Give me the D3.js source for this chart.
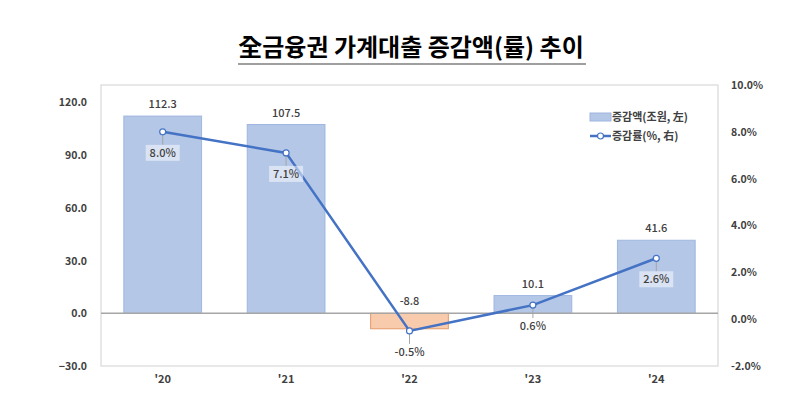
<!DOCTYPE html>
<html>
<head>
<meta charset="utf-8">
<script src="https://cdn.jsdelivr.net/npm/d3@7"></script>
<style>
  body { margin: 0; background: #fff; }
  text { font-family: "Noto Sans CJK KR", "Noto Sans", sans-serif; }
</style>
</head>
<body>
<div id="chart"></div>
<script>
// data
const years = ["'20", "'21", "'22", "'23", "'24"];
const amounts = [112.3, 107.5, -8.8, 10.1, 41.6];   // 증감액 (조원, 左)
const rates = [8.0, 7.1, -0.5, 0.6, 2.6];           // 증감률 (%, 右)
const leftTicks = [-30, 0, 30, 60, 90, 120];
const rightTicks = [-2, 0, 2, 4, 6, 8, 10];

const width = 800, height = 411;
const plot = { left: 101, right: 718, top: 85, bottom: 366 };

const svg = d3.select('#chart').append('svg')
    .attr('width', width)
    .attr('height', height);

// title
svg.append('text')
    .attr('x', 411)
    .attr('y', 56)
    .attr('text-anchor', 'middle')
    .attr('font-size', 24)
    .attr('font-weight', 'bold')
    .attr('fill', '#000')
    .text('全금융권 가계대출 증감액(률) 추이');
svg.append('line')
    .attr('x1', 238).attr('x2', 586)
    .attr('y1', 64).attr('y2', 64)
    .attr('stroke', '#7f7f7f')
    .attr('stroke-width', 1.5);

const x = d3.scaleBand()
    .domain(years)
    .range([plot.left, plot.right])
    .paddingInner(0.37)
    .paddingOuter(0.185);

const yL = d3.scaleLinear().domain([-30, 130]).range([plot.bottom, plot.top]);
const yR = d3.scaleLinear().domain([-2, 10]).range([plot.bottom, plot.top]);

// plot border
svg.append('rect')
    .attr('x', plot.left).attr('y', plot.top)
    .attr('width', plot.right - plot.left)
    .attr('height', plot.bottom - plot.top)
    .attr('fill', 'none')
    .attr('stroke', '#d9d9d9')
    .attr('stroke-width', 1.2);

// bars
svg.selectAll('rect.bar')
    .data(amounts)
    .enter()
    .append('rect')
    .attr('class', 'bar')
    .attr('x', (d, i) => x(years[i]))
    .attr('width', x.bandwidth())
    .attr('y', d => yL(Math.max(0, d)))
    .attr('height', d => Math.abs(yL(d) - yL(0)))
    .attr('fill', d => d < 0 ? '#f8cbad' : '#b4c7e7')
    .attr('stroke', d => d < 0 ? '#e59a6a' : '#9fb6e0')
    .attr('stroke-width', 1);

// zero line
svg.append('line')
    .attr('x1', plot.left).attr('x2', plot.right)
    .attr('y1', yL(0)).attr('y2', yL(0))
    .attr('stroke', '#a6a6a6')
    .attr('stroke-width', 1.5);

// bar value labels
svg.selectAll('text.barlabel')
    .data(amounts)
    .enter()
    .append('text')
    .attr('class', 'barlabel')
    .attr('x', (d, i) => x(years[i]) + x.bandwidth() / 2)
    .attr('y', d => d < 0 ? yL(0) - 8 : yL(d) - 8)
    .attr('text-anchor', 'middle')
    .attr('font-size', 11)
    .attr('font-weight', 500)
    .attr('fill', '#404040')
    .text(d => d.toFixed(1));

// rate line
const cx = (d, i) => x(years[i]) + x.bandwidth() / 2;
const line = d3.line()
    .x(cx)
    .y(d => yR(d));

svg.append('path')
    .datum(rates)
    .attr('d', line)
    .attr('fill', 'none')
    .attr('stroke', '#4472c4')
    .attr('stroke-width', 2.5);

// leader lines + labels for rates
const rateLabels = svg.selectAll('g.ratelabel')
    .data(rates)
    .enter()
    .append('g')
    .attr('class', 'ratelabel');

rateLabels.append('line')
    .attr('x1', cx).attr('x2', cx)
    .attr('y1', d => yR(d) + 3)
    .attr('y2', d => yR(d) + 13)
    .attr('stroke', '#a6a6a6')
    .attr('stroke-width', 1);

rateLabels.append('rect')
    .attr('x', (d, i) => cx(d, i) - 17)
    .attr('y', d => yR(d) + 13)
    .attr('width', 34)
    .attr('height', 16)
    .attr('fill', '#fff')
    .attr('fill-opacity', 0.5);

rateLabels.append('text')
    .attr('x', cx)
    .attr('y', d => yR(d) + 25)
    .attr('text-anchor', 'middle')
    .attr('font-size', 11)
    .attr('font-weight', 500)
    .attr('fill', '#404040')
    .text(d => d.toFixed(1) + '%');

svg.selectAll('circle.pt')
    .data(rates)
    .enter()
    .append('circle')
    .attr('class', 'pt')
    .attr('cx', cx)
    .attr('cy', d => yR(d))
    .attr('r', 3)
    .attr('fill', '#fff')
    .attr('stroke', '#4472c4')
    .attr('stroke-width', 1.2);

// axes
const axisL = svg.append('g')
    .attr('transform', `translate(${plot.left - 11},0)`)
    .call(d3.axisLeft(yL).tickValues(leftTicks).tickSize(0).tickFormat(d3.format('.1f')));
const axisR = svg.append('g')
    .attr('transform', `translate(${plot.right + 10},0)`)
    .call(d3.axisRight(yR).tickValues(rightTicks).tickSize(0).tickFormat(d => d.toFixed(1) + '%'));
const axisX = svg.append('g')
    .attr('transform', `translate(0,${plot.bottom + 6})`)
    .call(d3.axisBottom(x).tickSize(0));

[axisL, axisR, axisX].forEach(a => {
    a.select('.domain').remove();
    a.selectAll('text')
        .attr('font-size', 10.5)
        .attr('font-weight', 'bold')
        .attr('fill', '#404040')
        .style('font-family', '"Noto Sans CJK KR", sans-serif');
});
axisL.selectAll('text').attr('dx', 0);
axisR.selectAll('text').attr('dx', 0);
axisX.selectAll('text').attr('font-size', 11);

// legend
const legend = svg.append('g').attr('transform', 'translate(590,117)');
legend.append('rect')
    .attr('x', 0).attr('y', -4)
    .attr('width', 21).attr('height', 8)
    .attr('fill', '#b4c7e7')
    .attr('stroke', '#9fb6e0');
legend.append('text')
    .attr('x', 22).attr('y', 4)
    .attr('font-size', 11)
    .attr('font-weight', 'bold')
    .attr('fill', '#404040')
    .text('증감액(조원, 左)');
legend.append('line')
    .attr('x1', 0).attr('x2', 21)
    .attr('y1', 19).attr('y2', 19)
    .attr('stroke', '#4472c4')
    .attr('stroke-width', 2.5);
legend.append('circle')
    .attr('cx', 10.5).attr('cy', 19).attr('r', 3)
    .attr('fill', '#fff')
    .attr('stroke', '#4472c4')
    .attr('stroke-width', 1.2);
legend.append('text')
    .attr('x', 22).attr('y', 23)
    .attr('font-size', 11)
    .attr('font-weight', 'bold')
    .attr('fill', '#404040')
    .text('증감률(%, 右)');
</script>
</body>
</html>
